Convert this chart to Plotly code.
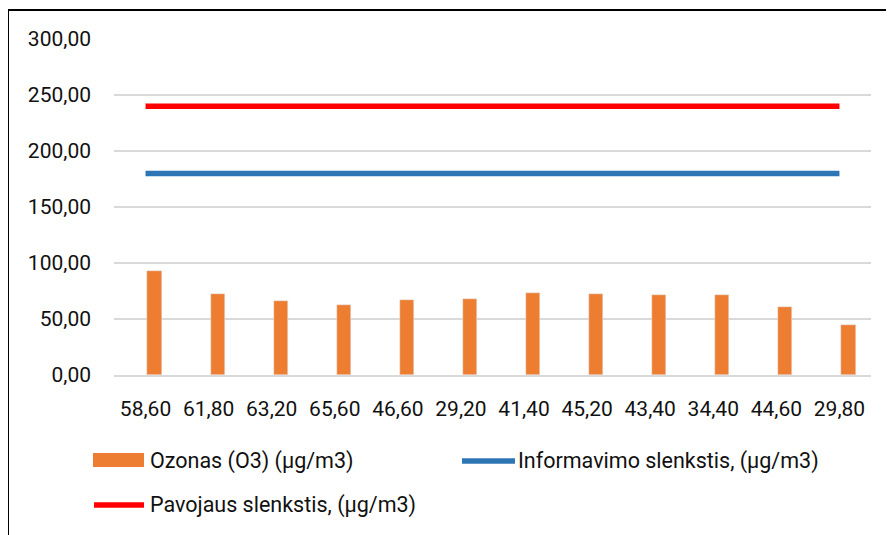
import plotly.graph_objects as go

categories = ["58,60", "61,80", "63,20", "65,60", "46,60", "29,20",
              "41,40", "45,20", "43,40", "34,40", "44,60", "29,80"]
ozonas = [93.0, 72.0, 66.4, 62.2, 67.3, 67.9, 73.2, 72.3, 71.4, 71.7, 60.4, 44.6]
informavimo = [180] * 12
pavojaus = [240] * 12
y_ticks = [0, 50, 100, 150, 200, 250, 300]

name_bar = "Ozonas (O3) (µg/m3)"
name_info = "Informavimo slenkstis, (µg/m3)"
name_pav = "Pavojaus slenkstis, (µg/m3)"

OFF = 8  # page body margin
W, H = 894 - OFF, 535 - OFF
# plot area in page pixels: x 114..871, y 39..375
L = 114 - OFF
R = W - (871 - OFF)
T = 39 - OFF
B = H - (375 - OFF)
PW, PH = W - L - R, H - T - B

def px(x):
    return (x - OFF - L) / PW

def py(y):
    return (H - B - (y - OFF)) / PH

ORANGE = "#ED7D31"
BLUE = "#2E75B6"
RED = "#FF0000"
FONT = "Roboto"
TXT = "#111111"

fig = go.Figure()
fig.add_trace(go.Bar(x=categories, y=ozonas, name=name_bar, marker_color=ORANGE,
                     width=0.225, offset=0.03, showlegend=False))
fig.add_trace(go.Scatter(x=categories, y=informavimo, name=name_info, mode="lines",
                         line=dict(color=BLUE, width=5.5), showlegend=False))
fig.add_trace(go.Scatter(x=categories, y=pavojaus, name=name_pav, mode="lines",
                         line=dict(color=RED, width=5.5), showlegend=False))

shapes = [
    dict(type="line", xref="paper", yref="paper", x0=px(8), x1=px(8), y0=py(9), y1=py(560),
         line=dict(color="#000000", width=2)),
    dict(type="line", xref="paper", yref="paper", x0=px(7), x1=px(920), y0=py(10), y1=py(10),
         line=dict(color="#000000", width=2)),
    dict(type="rect", xref="paper", yref="paper", x0=px(93), x1=px(144), y0=py(467), y1=py(453),
         fillcolor=ORANGE, line=dict(width=0)),
    dict(type="line", xref="paper", yref="paper", x0=px(462), x1=px(515), y0=py(461), y1=py(461),
         line=dict(color=BLUE, width=5.5)),
    dict(type="line", xref="paper", yref="paper", x0=px(94), x1=px(144), y0=py(505), y1=py(505),
         line=dict(color=RED, width=5.5)),
]

annotations = [
    dict(text=name_bar, x=px(148), y=py(461)),
    dict(text=name_info, x=px(516), y=py(461)),
    dict(text=name_pav, x=px(148), y=py(505)),
]
for a in annotations:
    a.update(xref="paper", yref="paper", xanchor="left", yanchor="middle", showarrow=False,
             font=dict(family=FONT, size=21.5, color=TXT))

fig.update_layout(
    width=W, height=H,
    margin=dict(l=L, r=R, t=T, b=B, pad=0),
    paper_bgcolor="white", plot_bgcolor="white",
    separators=",.",
    font=dict(family=FONT, size=21, color=TXT),
    shapes=shapes, annotations=annotations,
    showlegend=False,
    bargap=0,
)
fig.update_xaxes(type="category", range=[-0.5, 11.5], showgrid=False, zeroline=False,
                 showline=True, linecolor="#D9D9D9", linewidth=1.5,
                 ticks="", ticklabelstandoff=14,
                 tickfont=dict(family=FONT, size=21, color=TXT))
fig.update_yaxes(range=[0, 300], tickvals=y_ticks, tickformat=".2f",
                 showgrid=True, gridcolor="#D9D9D9", gridwidth=1.5, zeroline=False,
                 showline=False, ticks="", ticklabelstandoff=22,
                 tickfont=dict(family=FONT, size=21, color=TXT))

fig.write_html("out.html")
